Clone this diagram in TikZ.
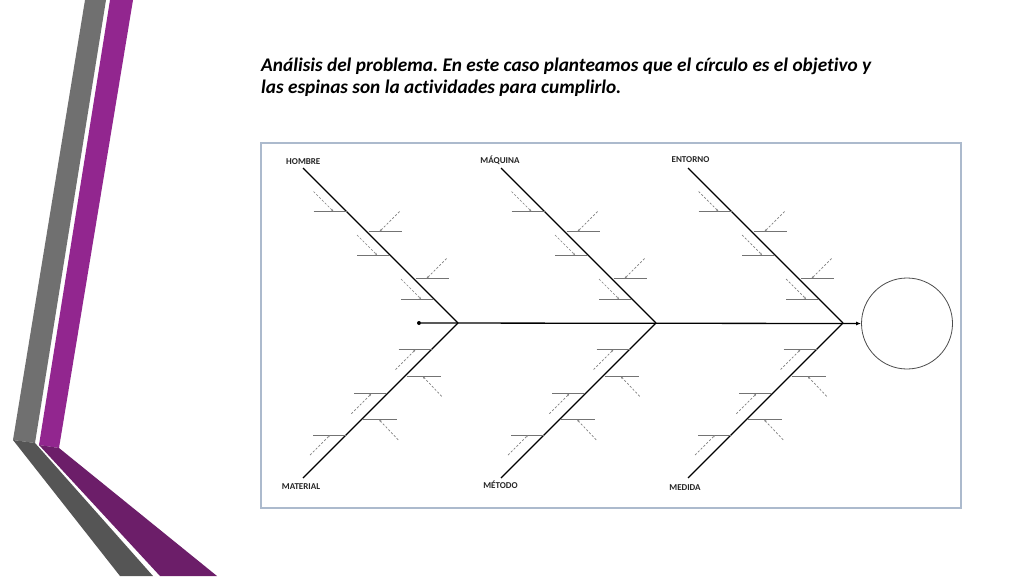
\documentclass[tikz,border=0pt]{standalone}
\usepackage{fontspec}
\setmainfont{Carlito}[Ligatures=NoCommon]
\usetikzlibrary{arrows.meta}
\definecolor{grayA}{RGB}{112,112,112}
\definecolor{grayB}{RGB}{85,85,85}
\definecolor{purA}{RGB}{146,38,143}
\definecolor{purB}{RGB}{108,30,105}
\definecolor{frameC}{RGB}{172,186,205}
\frenchspacing
\begin{document}
\begin{tikzpicture}[x=1pt,y=-1pt,
  bone/.style={line width=1.1pt, draw=black},
  spine/.style={line width=1.3pt, draw=black},
  rib/.style={line width=0.9pt, draw=black!55},
  sub/.style={line width=0.7pt, draw=black!50, dash pattern=on 2.2pt off 1.8pt, -{Stealth[length=2.5pt,width=2pt]}},
  lbl/.style={font=\bfseries\fontsize{9}{10}\selectfont, text=black!85, inner sep=0pt, anchor=base},
  ttl/.style={font=\bfseries\itshape\fontsize{19.3}{22}\selectfont, anchor=base west, inner sep=0pt}]
\useasboundingbox (0,0) rectangle (1024,576);
\fill[white] (0,0) rectangle (1024,576);
% decoration
\fill[grayA] (85,0) -- (106,0) -- (35,443) -- (13,440) -- cycle;
\fill[purA] (110,0) -- (133,0) -- (59,448) -- (39,445) -- cycle;
\fill[grayB] (13,440) -- (35,443) -- (153,576) -- (120,576) -- cycle;
\fill[purB] (39,445) -- (59,448) -- (217,576) -- (160,576) -- cycle;
% title
\node[ttl] (t1) at (261,71) {Análisis del problema. En este caso planteamos que el círculo es el objetivo y};
\node[ttl] (t2) at (261,93) {las espinas son la actividades para cumplirlo.};
% frame
\draw[frameC, line width=1.5pt] (261,143) rectangle (961,508);
% goal and spine
\node[circle, draw=black!70, line width=0.8pt, minimum size=91pt, inner sep=0pt] (goal) at (907,323.5) {};
\node[circle, fill=black, inner sep=0pt, minimum size=4pt] (tail) at (419,323) {};
\draw[spine, -{Latex[length=5pt,width=4pt]}] (tail) -- (goal.west);
% bones
\foreach \xj/\nm in {458/a,656/b,843/c}{
  \coordinate (j\nm) at (\xj,323);
  \coordinate (u\nm) at (\xj-155,168);
  \coordinate (d\nm) at (\xj-155,478);
  \draw[bone] (u\nm) -- (j\nm);
  \draw[bone] (j\nm) -- (d\nm);
  \foreach \yy in {211.5,255,299}{
    \pgfmathsetmacro\bx{\xj-323+\yy}
    \draw[rib] (\bx-33,\yy) -- (\bx,\yy);
    \draw[sub] (\bx-33,\yy-20) -- (\bx-13,\yy);
  }
  \foreach \yy in {231.5,278.5}{
    \pgfmathsetmacro\bx{\xj-323+\yy}
    \draw[rib] (\bx+2,\yy) -- (\bx+35,\yy);
    \draw[sub] (\bx+33,\yy-20) -- (\bx+13,\yy);
  }
  \foreach \yy in {349.5,393.7,435}{
    \pgfmathsetmacro\bx{\xj+323-\yy}
    \draw[rib] (\bx-33,\yy) -- (\bx,\yy);
    \draw[sub] (\bx-36,\yy+20) -- (\bx-16,\yy);
  }
  \foreach \yy in {376.3,419.8}{
    \pgfmathsetmacro\bx{\xj+323-\yy}
    \draw[rib] (\bx+2,\yy) -- (\bx+36,\yy);
    \draw[sub] (\bx+37,\yy+20) -- (\bx+18,\yy);
  }
}
% labels
\node[lbl] (lh) at (303.3,164) {HOMBRE};
\node[lbl] (lm) at (500,163.5) {MÁQUINA};
\node[lbl] (le) at (690.5,162) {ENTORNO};
\node[lbl] (lma) at (301,489.3) {MATERIAL};
\node[lbl] (lme) at (500.5,488.3) {MÉTODO};
\node[lbl] (lmd) at (685,490) {MEDIDA};
\end{tikzpicture}
\end{document}
